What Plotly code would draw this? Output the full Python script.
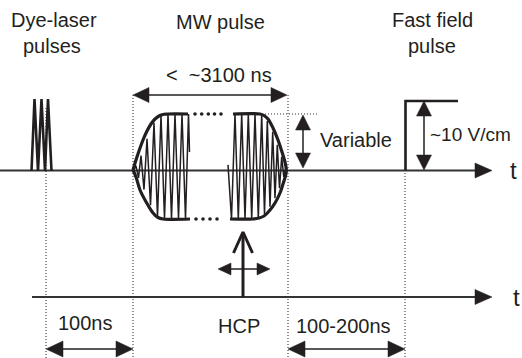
import numpy as np
import plotly.graph_objects as go

W, H = 522, 358
INK = "#231f20"
AXIS = "#333333"
FONT = "Liberation Sans, Arial, Helvetica, sans-serif"

# ---- drawing units: 1 unit = 1 px, y grows downward ----
upper_axis_y = 170.5
lower_axis_y = 297.0
axis_start_x = [0, 32]
axis_tip_x = 492

# timing guides (dotted) and where each one starts
marker_x = [46, 133, 288, 405]
marker_top_y = [108, 95, 95, 170]

# dye-laser pulse train (alternating base / peak)
laser_x = [31.5, 34.5, 38, 41.5, 45, 48, 51.5]
laser_y = [171, 99, 171, 99, 171, 99, 171]

# MW pulse envelope, left block
env_lt_x = [133, 136, 139, 143, 147, 151, 155, 159, 164, 168, 188]
env_lt_y = [170, 160, 151, 140, 131, 124, 119, 116, 114.3, 114, 114]
env_lb_x = [133, 136, 140, 146.7, 153, 158, 163, 190]
env_lb_y = [170, 177, 190, 203, 213, 217.5, 219, 219]
# MW pulse envelope, right block
env_rt_x = [233, 260, 264, 268, 273, 278, 282, 285, 286.5]
env_rt_y = [114, 114, 115.5, 119, 128, 140, 152, 162, 170]
env_rb_x = [230, 253, 259, 264, 270, 275, 280, 283, 285.5, 286.5]
env_rb_y = [219, 219, 218, 216, 210, 203, 193, 184, 176, 170]

# carrier turning points and their fraction of the envelope height
carrier_l_x = [133.5, 136, 138.5, 141, 144, 147, 150.5, 154, 157.5, 161, 164.5,
               168, 171.5, 175, 178.5, 182, 185.5, 188.5]
carrier_l_f = [0, 0.45, 0.5, 0.6, 0.7, 0.8, 0.9, 0.95, 1, 1, 1, 1, 1, 1, 1, 1, 1, 1]
carrier_r_x = [228, 231.5, 235, 238.3, 241.7, 245, 248.3, 251.7, 255, 258.3, 261.7,
               264.5, 267.3, 270, 272.7, 275, 277.3, 279.5, 281.7, 283.8, 285.5]
carrier_r_f = [0.1, 1, 1, 1, 1, 1, 1, 1, 1, 1, 1, 0.97, 0.95, 0.92, 0.9, 0.85,
               0.8, 0.75, 0.7, 0.6, 0.3]

# gaps in the MW pulse drawn as dots
dots_top_x = [195, 201.7, 208.3, 214.5, 221]
dots_bot_x = [196, 203, 210, 217]

# fast field step
step_x = [405.5, 405.5, 458]
step_y = [170.5, 101, 101]

# HCP kick
hcp_x = 243
hcp_tip_y = 232

fig = go.Figure()


def line(xs, ys, width=2, color=INK, dash=None, shape="linear"):
    fig.add_trace(go.Scatter(x=xs, y=ys, mode="lines", hoverinfo="skip",
                             line=dict(color=color, width=width, dash=dash, shape=shape)))


heads_x, heads_y = [], []


def head(tx, ty, dx, dy, length, half):
    bx, by = tx - dx * length, ty - dy * length
    px, py = -dy, dx
    heads_x.extend([tx, bx + half * px, bx - half * px, tx, None])
    heads_y.extend([ty, by + half * py, by - half * py, ty, None])


def harrow(x0, x1, y, length, half, width=1.5):
    line([x0 + length * 0.8, x1 - length * 0.8], [y, y], width=width)
    head(x0, y, -1, 0, length, half)
    head(x1, y, 1, 0, length, half)


def varrow(x, y0, y1, length, half, width=1.5):
    line([x, x], [y0 + length * 0.8, y1 - length * 0.8], width=width)
    head(x, y0, 0, -1, length, half)
    head(x, y1, 0, 1, length, half)


# dotted timing guides
for mx, my in zip(marker_x, marker_top_y):
    line([mx, mx], [my, H], width=1.1, color=AXIS, dash="1px,2px")
line([265, 319], [114, 114], width=1.1, color=AXIS, dash="1px,2px")

# time axes
line([axis_start_x[0], axis_tip_x - 14], [upper_axis_y] * 2, width=1.8, color=AXIS)
line([axis_start_x[1], axis_tip_x - 14], [lower_axis_y] * 2, width=1.8, color=AXIS)
head(axis_tip_x, upper_axis_y, 1, 0, 17, 7.5)
head(axis_tip_x, lower_axis_y, 1, 0, 17, 7.5)

# laser pulses
line(laser_x, laser_y, width=2.6)


# MW carrier
def carrier(xs, fs, top_x, top_y, bot_x, bot_y, top_first):
    ys = []
    for i, (x, f) in enumerate(zip(xs, fs)):
        is_top = (i % 2 == 0) == top_first
        if is_top:
            e = np.interp(x, top_x, top_y)
            ys.append(upper_axis_y - f * (upper_axis_y - e))
        else:
            e = np.interp(x, bot_x, bot_y)
            ys.append(upper_axis_y + f * (e - upper_axis_y))
    return ys


cl_y = carrier(carrier_l_x, carrier_l_f, env_lt_x, env_lt_y, env_lb_x, env_lb_y, False)
line(carrier_l_x + [189.5], cl_y + [152], width=1.5)
cr_y = carrier(carrier_r_x, carrier_r_f, env_rt_x, env_rt_y, env_rb_x, env_rb_y, True)
line(carrier_r_x, cr_y, width=1.5)

# MW envelope
line(env_lt_x, env_lt_y, width=3.2, shape="spline")
line(env_lb_x, env_lb_y, width=3.2, shape="spline")
line(env_rt_x, env_rt_y, width=3.2, shape="spline")
line(env_rb_x, env_rb_y, width=3.2, shape="spline")
fig.add_trace(go.Scatter(x=dots_top_x + dots_bot_x,
                         y=[114] * len(dots_top_x) + [219] * len(dots_bot_x),
                         mode="markers", hoverinfo="skip",
                         marker=dict(color=INK, size=3.6, line=dict(width=0))))

# fast field pulse
line(step_x, step_y, width=2.6)

# HCP arrow
line([hcp_x, hcp_x], [lower_axis_y, hcp_tip_y + 1], width=3)
line([hcp_x - 9.5, hcp_x, hcp_x + 9.5], [hcp_tip_y + 21, hcp_tip_y, hcp_tip_y + 21], width=3)
harrow(218, 270, 269, 13, 6)

# dimension arrows
harrow(133, 287, 95, 16, 7.5)
varrow(303, 115, 168, 15, 7.5)
varrow(424, 101, 170, 15, 7.5)
harrow(46, 133, 349, 17, 8)
harrow(288, 405, 349, 17, 8)

fig.add_trace(go.Scatter(x=heads_x, y=heads_y, mode="lines", fill="toself",
                         fillcolor=INK, hoverinfo="skip",
                         line=dict(color=INK, width=0.5)))

labels = [
    ("Dye-laser", 54, 20, "center", 20),
    ("pulses", 52, 46, "center", 20),
    ("MW pulse", 220.5, 21.5, "center", 20),
    ("&lt;\u00a0 ~3100 ns", 219, 75, "center", 20),
    ("Fast field", 432, 20, "center", 20),
    ("pulse", 432, 46, "center", 20),
    ("Variable", 355.5, 140, "center", 20),
    ("~10 V/cm", 428, 134, "left", 19),
    ("t", 513, 170, "center", 24),
    ("t", 516, 297, "center", 24),
    ("100ns", 85, 322.5, "center", 20),
    ("HCP", 239, 326, "center", 20),
    ("100-200ns", 343, 325.5, "center", 20),
]
for txt, x, y, xa, fs in labels:
    fig.add_annotation(x=x, y=y, xref="x", yref="y", text=txt, showarrow=False,
                       xanchor=xa, yanchor="middle",
                       font=dict(family=FONT, size=fs, color=INK))

fig.update_layout(
    width=W, height=H, margin=dict(l=0, r=0, t=0, b=0),
    paper_bgcolor="white", plot_bgcolor="white", showlegend=False,
    xaxis=dict(range=[0, W], visible=False, fixedrange=True),
    yaxis=dict(range=[H, 0], visible=False, fixedrange=True),
)

fig.write_html("out.html")
